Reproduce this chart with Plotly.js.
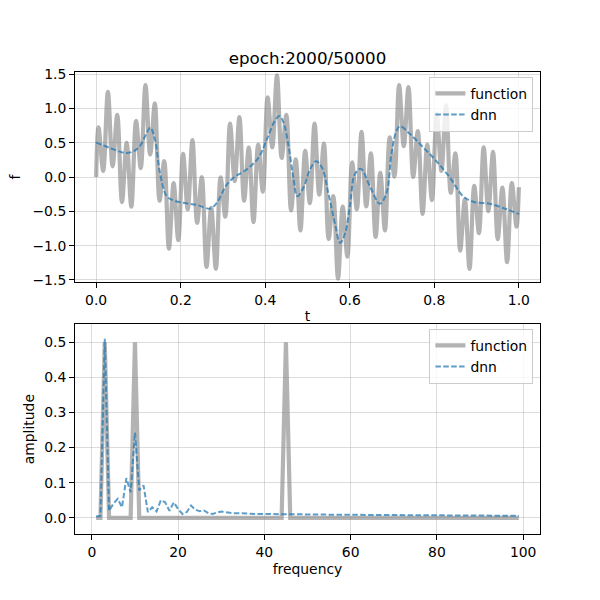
<!DOCTYPE html>
<html>
<head>
<meta charset="utf-8">
<script src="https://cdn.plot.ly/plotly-3.0.1.min.js"></script>
<style>
  html, body { margin: 0; padding: 0; background: #ffffff; }
  #chart { width: 600px; height: 600px; }
</style>
</head>
<body>
<div id="chart"></div>
<script>
// top panel: the target function, read at its turning points
const tFunc = [0,
    0.0056, 0.0167, 0.0278, 0.0389, 0.05, 0.0611, 0.0722, 0.0833, 0.0944, 0.1056,
    0.1167, 0.1278, 0.1389, 0.15, 0.1611, 0.1722, 0.1833, 0.1944, 0.2056, 0.2167,
    0.2278, 0.2389, 0.25, 0.2611, 0.2722, 0.2833, 0.2944, 0.3056, 0.3167, 0.3278,
    0.3389, 0.35, 0.3611, 0.3722, 0.3833, 0.3944, 0.4056, 0.4167, 0.4278, 0.4389,
    0.45, 0.4611, 0.4722, 0.4833, 0.4944, 0.5056, 0.5167, 0.5278, 0.5389, 0.55,
    0.5611, 0.5722, 0.5833, 0.5944, 0.6056, 0.6167, 0.6278, 0.6389, 0.65, 0.6611,
    0.6722, 0.6833, 0.6944, 0.7056, 0.7167, 0.7278, 0.7389, 0.75, 0.7611, 0.7722,
    0.7833, 0.7944, 0.8056, 0.8167, 0.8278, 0.8389, 0.85, 0.8611, 0.8722, 0.8833,
    0.8944, 0.9056, 0.9167, 0.9278, 0.9389, 0.95, 0.9611, 0.9722, 0.9833, 0.9944,
    1.0];
const fFunc = [0,
    0.723, 0.088, 1.242, 0.156, 0.905, -0.365, 0.497, -0.433, 0.818, 0.128,
    1.338, 0.327, 1.072, -0.346, 0.231, -1.045, -0.088, -0.921, 0.337, -0.472,
    0.536, -0.668, 0, -1.311, -0.449, -1.338, -0.006, -0.579, 0.779, -0.06,
    0.874, -0.346, 0.429, -0.658, 0.472, -0.214, 1.16, 0.433, 1.482, 0.278,
    0.905, -0.487, 0.258, -0.779, 0.381, -0.381, 0.779, -0.258, 0.487, -0.905,
    -0.278, -1.482, -0.433, -1.16, 0.214, -0.472, 0.658, -0.429, 0.346, -0.874,
    0.06, -0.779, 0.579, 0.006, 1.338, 0.449, 1.311, 0, 0.668, -0.536,
    0.472, -0.337, 0.921, 0.088, 1.045, -0.231, 0.346, -1.072, -0.327, -1.338,
    -0.128, -0.818, 0.433, -0.497, 0.365, -0.905, -0.156, -1.242, -0.088, -0.723,
    -0.15];

// top panel: network output
const tNet = [0, 0.03, 0.07, 0.09, 0.104, 0.118, 0.128, 0.139, 0.151, 0.167,
    0.183, 0.21, 0.24, 0.27, 0.285, 0.309, 0.325, 0.356, 0.384, 0.404,
    0.423, 0.433, 0.443, 0.455, 0.466, 0.476, 0.49, 0.506, 0.52, 0.534,
    0.549, 0.565, 0.577, 0.589, 0.6, 0.612, 0.626, 0.648, 0.671, 0.687,
    0.699, 0.711, 0.719, 0.742, 0.774, 0.805, 0.837, 0.868, 0.892, 0.931,
    0.971, 1.0];
const fNet = [0.5, 0.43, 0.35, 0.38, 0.455, 0.62, 0.72, 0.55, 0.06, -0.28,
    -0.34, -0.38, -0.41, -0.46, -0.38, -0.11, -0.01, 0.11, 0.28, 0.55,
    0.82, 0.89, 0.8, 0.455, 0.01, -0.28, -0.16, 0.11, 0.23, 0.14,
    -0.23, -0.68, -0.96, -0.82, -0.43, 0.04, 0.12, -0.14, -0.39, -0.23,
    0.36, 0.68, 0.74, 0.63, 0.43, 0.23, -0.01, -0.28, -0.36, -0.39,
    -0.47, -0.54];

// bottom panel: spectrum
const freq = [1, 2, 3, 4, 5, 6, 7, 8, 9, 10,
    11, 12, 13, 14, 15, 16, 17, 18, 19, 20,
    21, 22, 23, 24, 25, 26, 27, 28, 29, 30,
    31, 32, 33, 34, 35, 36, 37, 38, 39, 40,
    41, 42, 43, 44, 45, 46, 47, 48, 49, 50,
    51, 52, 53, 54, 55, 56, 57, 58, 59, 60,
    61, 62, 63, 64, 65, 66, 67, 68, 69, 70,
    71, 72, 73, 74, 75, 76, 77, 78, 79, 80,
    81, 82, 83, 84, 85, 86, 87, 88, 89, 90,
    91, 92, 93, 94, 95, 96, 97, 98, 99];
const ampFunc = [0, 0, 0.5, 0, 0, 0, 0, 0, 0, 0.5,
    0, 0, 0, 0, 0, 0, 0, 0, 0, 0,
    0, 0, 0, 0, 0, 0, 0, 0, 0, 0,
    0, 0, 0, 0, 0, 0, 0, 0, 0, 0,
    0, 0, 0, 0, 0.5, 0, 0, 0, 0, 0,
    0, 0, 0, 0, 0, 0, 0, 0, 0, 0,
    0, 0, 0, 0, 0, 0, 0, 0, 0, 0,
    0, 0, 0, 0, 0, 0, 0, 0, 0, 0,
    0, 0, 0, 0, 0, 0, 0, 0, 0, 0,
    0, 0, 0, 0, 0, 0, 0, 0, 0];
const ampNet = [0.004, 0.005, 0.51, 0.02, 0.04, 0.054, 0.03, 0.113, 0.073, 0.243,
    0.078, 0.092, 0.016, 0.03, 0.018, 0.05, 0.044, 0.02, 0.044, 0.025,
    0.011, 0.016, 0.035, 0.023, 0.019, 0.021, 0.013, 0.011, 0.015, 0.018,
    0.016, 0.014, 0.013, 0.013, 0.012, 0.012, 0.012, 0.011, 0.011, 0.011,
    0.011, 0.01, 0.01, 0.01, 0.01, 0.01, 0.01, 0.0095, 0.0095, 0.0095,
    0.0093, 0.0092, 0.009, 0.009, 0.009, 0.0088, 0.0087, 0.0087, 0.0086, 0.0085,
    0.0085, 0.0084, 0.0083, 0.0082, 0.0081, 0.008, 0.008, 0.0079, 0.0078, 0.0077,
    0.0076, 0.0075, 0.0074, 0.0073, 0.0072, 0.0071, 0.007, 0.0069, 0.0068, 0.0067,
    0.0067, 0.0066, 0.0066, 0.0065, 0.0064, 0.0064, 0.0063, 0.0063, 0.0062, 0.0062,
    0.0061, 0.006, 0.006, 0.0059, 0.0059, 0.0058, 0.0058, 0.0057, 0.0057];

const title = "epoch:2000/50000";
const seriesNames = ["function", "dnn"];

const grayLine = { color: "rgba(128,128,128,0.6)", width: 4.2 };
const blueLine = { color: "rgba(31,119,180,0.72)", width: 2, dash: "5.5px,2.4px" };
const font = "DejaVu Sans, sans-serif";


window.addEventListener("DOMContentLoaded", init);


function init() {
    Plotly.newPlot("chart", traces(), layout(), { staticPlot: true });
}


function traces() {
    let top0 = { x: tFunc, y: fFunc, type: "scatter", mode: "lines", name: seriesNames[0],
        line: Object.assign({ shape: "spline" }, grayLine), xaxis: "x", yaxis: "y", legend: "legend" };
    let top1 = { x: tNet, y: fNet, type: "scatter", mode: "lines", name: seriesNames[1],
        line: Object.assign({ shape: "spline" }, blueLine), xaxis: "x", yaxis: "y", legend: "legend" };
    let bot0 = { x: freq, y: ampFunc, type: "scatter", mode: "lines", name: seriesNames[0],
        line: grayLine, xaxis: "x2", yaxis: "y2", legend: "legend2" };
    let bot1 = { x: freq, y: ampNet, type: "scatter", mode: "lines", name: seriesNames[1],
        line: blueLine, xaxis: "x2", yaxis: "y2", legend: "legend2" };
    return [top0, top1, bot0, bot1];
}


function axis(extra) {
    let base = {
        showline: true, mirror: true, linecolor: "#000", linewidth: 1,
        ticks: "outside", ticklen: 5, tickwidth: 1, tickcolor: "#000",
        showgrid: true, gridcolor: "rgba(176,176,176,0.55)", gridwidth: 0.8,
        zeroline: false, tickfont: { family: font, size: 13.9, color: "#000" },
        fixedrange: true
    };
    return Object.assign(base, extra);
}


function legendBox(y) {
    return {
        x: 0.889, xanchor: "right", y: y, yanchor: "top",
        bgcolor: "rgba(255,255,255,0.8)", bordercolor: "#cccccc", borderwidth: 1,
        font: { family: font, size: 13.9, color: "#000" },
        itemwidth: 30, tracegroupgap: 0
    };
}


function layout() {
    return {
        width: 600, height: 600,
        margin: { l: 0, r: 0, t: 0, b: 0 },
        paper_bgcolor: "#fff", plot_bgcolor: "#fff",
        font: { family: font, color: "#000" },
        title: { text: title, x: 0.5125, xanchor: "center", y: 0.903, yanchor: "middle",
            font: { family: font, size: 16.7, color: "#000" } },
        showlegend: true,
        legend: legendBox(0.872),
        legend2: legendBox(0.452),
        xaxis: axis({ domain: [0.125, 0.9], anchor: "y", range: [-0.05, 1.05],
            tickvals: [0, 0.2, 0.4, 0.6, 0.8, 1.0], tickformat: ".1f",
            title: { text: "t", standoff: 4, font: { family: font, size: 13.9, color: "#000" } } }),
        yaxis: axis({ domain: [0.53, 0.88], anchor: "x", range: [-1.53, 1.53],
            tickvals: [-1.5, -1, -0.5, 0, 0.5, 1, 1.5], tickformat: ".1f",
            title: { text: "f", standoff: 8, font: { family: font, size: 13.9, color: "#000" } } }),
        xaxis2: axis({ domain: [0.125, 0.9], anchor: "y2", range: [-3.9, 103.9],
            tickvals: [0, 20, 40, 60, 80, 100],
            title: { text: "frequency", standoff: 5, font: { family: font, size: 13.9, color: "#000" } } }),
        yaxis2: axis({ domain: [0.1095, 0.46], anchor: "x2", range: [-0.047, 0.552],
            tickvals: [0, 0.1, 0.2, 0.3, 0.4, 0.5], tickformat: ".1f",
            title: { text: "amplitude", standoff: 6, font: { family: font, size: 13.9, color: "#000" } } })
    };
}
</script>
</body>
</html>
